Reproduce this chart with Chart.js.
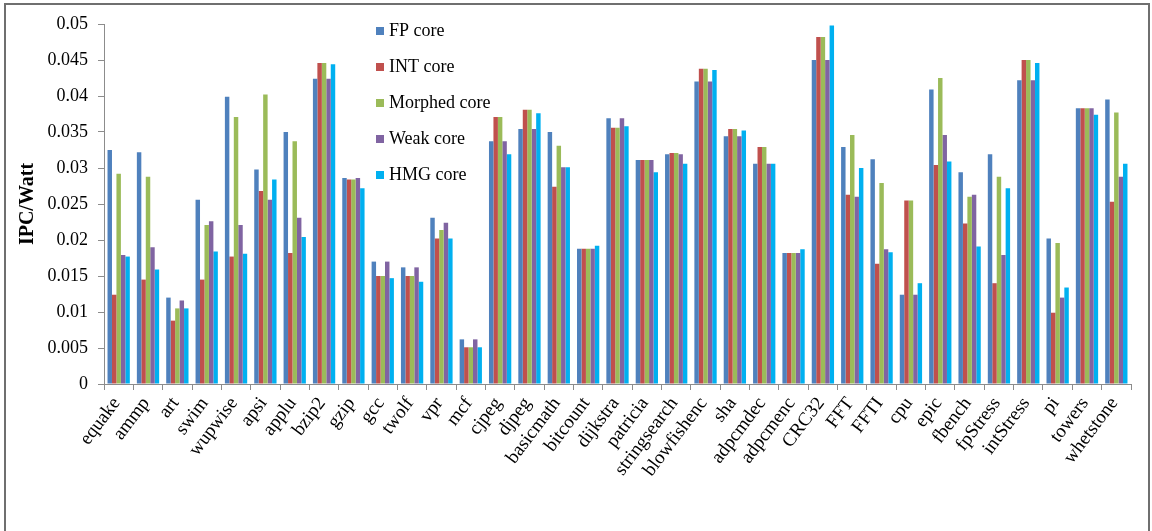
<!DOCTYPE html>
<html>
<head>
<meta charset="utf-8">
<script src="https://cdn.jsdelivr.net/npm/chart.js@4/dist/chart.umd.min.js"></script>
<style>
  html, body { margin: 0; padding: 0; background: #ffffff; }
  #wrap { width: 1152px; height: 531px; }
</style>
</head>
<body>
<div id="wrap"><canvas id="c" width="1152" height="531"></canvas></div>
<script>
// Benchmarks on the x axis
const categories = ['equake', 'ammp', 'art', 'swim', 'wupwise', 'apsi', 'applu', 'bzip2', 'gzip', 'gcc',
  'twolf', 'vpr', 'mcf', 'cjpeg', 'djpeg', 'basicmath', 'bitcount', 'dijkstra', 'patricia', 'stringsearch',
  'blowfishenc', 'sha', 'adpcmdec', 'adpcmenc', 'CRC32', 'FFT', 'FFTI', 'cpu', 'epic', 'fbench',
  'fpStress', 'intStress', 'pi', 'towers', 'whetstone'];

// IPC per Watt for each core type
const fpCore = [0.0325, 0.0322, 0.0120, 0.0256, 0.0399, 0.0298, 0.0350, 0.0424, 0.0286, 0.0170,
  0.0162, 0.0231, 0.0062, 0.0337, 0.0354, 0.0350, 0.0188, 0.0369, 0.0311, 0.0319,
  0.0420, 0.0344, 0.0306, 0.0182, 0.0450, 0.0329, 0.0312, 0.0124, 0.0409, 0.0294,
  0.0319, 0.0422, 0.0202, 0.0383, 0.0395];
const intCore = [0.0124, 0.0145, 0.0088, 0.0145, 0.0177, 0.0268, 0.0182, 0.0446, 0.0284, 0.0150,
  0.0150, 0.0202, 0.0051, 0.0371, 0.0381, 0.0274, 0.0188, 0.0356, 0.0311, 0.0321,
  0.0438, 0.0354, 0.0329, 0.0182, 0.0482, 0.0263, 0.0167, 0.0255, 0.0304, 0.0223,
  0.0140, 0.0450, 0.0099, 0.0383, 0.0253];
const morphedCore = [0.0292, 0.0288, 0.0105, 0.0221, 0.0371, 0.0402, 0.0337, 0.0446, 0.0284, 0.0150,
  0.0150, 0.0214, 0.0051, 0.0371, 0.0381, 0.0331, 0.0188, 0.0356, 0.0311, 0.0321,
  0.0438, 0.0354, 0.0329, 0.0182, 0.0482, 0.0346, 0.0279, 0.0255, 0.0425, 0.0260,
  0.0288, 0.0450, 0.0196, 0.0383, 0.0377];
const weakCore = [0.0179, 0.0190, 0.0116, 0.0226, 0.0221, 0.0256, 0.0231, 0.0424, 0.0286, 0.0170,
  0.0162, 0.0224, 0.0062, 0.0337, 0.0354, 0.0301, 0.0188, 0.0369, 0.0311, 0.0319,
  0.0420, 0.0344, 0.0306, 0.0182, 0.0450, 0.0260, 0.0187, 0.0124, 0.0346, 0.0263,
  0.0179, 0.0422, 0.0120, 0.0383, 0.0288];
const hmgCore = [0.0177, 0.0159, 0.0105, 0.0184, 0.0181, 0.0284, 0.0204, 0.0444, 0.0272, 0.0147,
  0.0142, 0.0202, 0.0051, 0.0319, 0.0376, 0.0301, 0.0192, 0.0358, 0.0294, 0.0306,
  0.0436, 0.0352, 0.0306, 0.0187, 0.0498, 0.0300, 0.0183, 0.0140, 0.0309, 0.0191,
  0.0272, 0.0446, 0.0134, 0.0374, 0.0306];

const seriesNames = ['FP core', 'INT core', 'Morphed core', 'Weak core', 'HMG core'];
const seriesColors = ['#4F81BD', '#C0504D', '#9BBB59', '#8064A2', '#00B0F0'];
const seriesValues = [fpCore, intCore, morphedCore, weakCore, hmgCore];

// Y axis range
const yMin = 0;
const yMax = 0.05;
const yStep = 0.005;

const SERIF = '"Liberation Serif", "Times New Roman", serif';

// Vertical legend drawn inside the plot area
const sideLegend = {
  id: 'sideLegend',
  afterDraw(chart) {
    const ctx = chart.ctx;
    ctx.save();
    ctx.font = '18px ' + SERIF;
    ctx.textBaseline = 'middle';
    ctx.textAlign = 'left';
    chart.data.datasets.forEach((ds, i) => {
      const cy = 31 + i * 36;
      ctx.fillStyle = ds.backgroundColor;
      ctx.fillRect(376, cy - 4, 8, 8);
      ctx.fillStyle = '#000';
      ctx.fillText(ds.label, 389, cy);
    });
    ctx.restore();
  }
};

// Outer frame around the figure
const frame = {
  id: 'frame',
  afterDraw(chart) {
    const ctx = chart.ctx;
    ctx.save();
    ctx.strokeStyle = '#6f6f6f';
    ctx.lineWidth = 2;
    ctx.strokeRect(5, 4, 1144, 560);
    ctx.restore();
  }
};

new Chart(document.getElementById('c'), {
  type: 'bar',
  data: {
    labels: categories,
    datasets: seriesNames.map((name, i) => ({
      label: name,
      data: seriesValues[i],
      backgroundColor: seriesColors[i],
      borderWidth: 0,
      categoryPercentage: 0.76,
      barPercentage: 1.0
    }))
  },
  options: {
    responsive: false,
    animation: false,
    devicePixelRatio: 1,
    layout: { padding: { left: 0, top: 24, right: 21, bottom: 0 } },
    plugins: {
      legend: { display: false },
      tooltip: { enabled: false }
    },
    scales: {
      x: {
        offset: true,
        grid: { offset: true, drawOnChartArea: false, drawTicks: true, tickLength: 6, color: '#8c8c8c' },
        border: { color: '#8c8c8c', width: 1 },
        ticks: {
          autoSkip: false,
          minRotation: 53,
          maxRotation: 53,
          padding: 3,
          labelOffset: -2,
          color: '#000',
          font: { family: SERIF, size: 19 }
        },
        afterFit(scale) { scale.height = 147; }
      },
      y: {
        min: yMin,
        max: yMax,
        grid: { drawOnChartArea: false, drawTicks: true, tickLength: 6, color: '#8c8c8c' },
        border: { color: '#8c8c8c', width: 1 },
        ticks: {
          stepSize: yStep,
          padding: 10,
          color: '#000',
          font: { family: SERIF, size: 18 },
          callback: v => String(Number(v.toFixed(3)))
        },
        title: {
          display: true,
          text: 'IPC/Watt',
          color: '#000',
          font: { family: SERIF, size: 20, weight: 'bold' },
          padding: { top: 16, bottom: 0 }
        },
        afterFit(scale) { scale.width = 104; }
      }
    }
  },
  plugins: [sideLegend, frame]
});
</script>
</body>
</html>
